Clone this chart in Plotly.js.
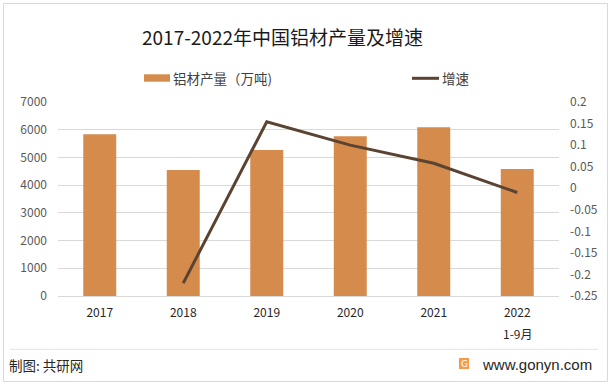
<!DOCTYPE html>
<html>
<head>
<meta charset="utf-8">
<script src="https://cdn.plot.ly/plotly-3.0.1.min.js"></script>
<style>html,body{margin:0;padding:0;background:#fff;}#chart{width:611px;height:386px;}</style>
</head>
<body>
<div id="chart"></div>
<script>
// ---- data ----
var categories = ["2017", "2018", "2019", "2020", "2021", "2022"];
var output = [5840, 4545, 5265, 5765, 6090, 4580];      // 铝材产量（万吨）
var growth = [null, -0.220, 0.154, 0.100, 0.058, -0.010]; // 增速
var leftTicks = [0, 1000, 2000, 3000, 4000, 5000, 6000, 7000];
var rightTicks = [-0.25, -0.2, -0.15, -0.1, -0.05, 0, 0.05, 0.1, 0.15, 0.2];
var rightTickText = ["-0.25", "-0.2", "-0.15", "-0.1", "-0.05", "0", "0.05", "0.1", "0.15", "0.2"];

// ---- layout helpers (pixel -> paper) ----
var W = 611, H = 386, L = 58, R = 52, T = 102, B = 90;
var PW = W - L - R, PH = H - T - B;
function px(x) { return (x - L) / PW; }
function py(y) { return (H - B - y) / PH; }

var FONT = '"Noto Sans CJK SC", "Noto Sans", sans-serif';
var barColor = '#D48B4C';
var lineColor = '#5B4331';

var traces = [
  {
    type: 'bar', x: categories, y: output, name: '铝材产量（万吨)',
    marker: { color: barColor }, yaxis: 'y', showlegend: false, hoverinfo: 'skip'
  },
  {
    type: 'scatter', mode: 'lines', x: categories, y: growth, name: '增速',
    line: { color: lineColor, width: 3 }, yaxis: 'y2', showlegend: false,
    connectgaps: false, hoverinfo: 'skip'
  }
];

var layout = {
  width: W, height: H,
  margin: { l: L, r: R, t: T, b: B, pad: 0 },
  paper_bgcolor: '#ffffff', plot_bgcolor: '#ffffff',
  font: { family: FONT, size: 12, color: '#404040' },
  bargap: 0.605,
  title: {
    text: '2017-2022年中国铝材产量及增速',
    font: { family: FONT, size: 19, color: '#1a1a1a' },
    x: 282.5 / W, xref: 'container', xanchor: 'center',
    y: 1 - 38.5 / H, yref: 'container', yanchor: 'middle'
  },
  xaxis: {
    type: 'category', range: [-0.5, categories.length - 0.5], autorange: false,
    showgrid: false, zeroline: false, showline: true, linecolor: '#D9D9D9', linewidth: 1,
    ticks: '', tickfont: { family: FONT, size: 12, color: '#262626' },
    ticklabelstandoff: 6
  },
  yaxis: {
    range: [0, 7000], tickvals: leftTicks, showgrid: true, gridcolor: '#D9D9D9',
    gridwidth: 1, zeroline: false, showline: false, ticks: '',
    tickfont: { family: FONT, size: 12, color: '#595959' }, ticklabelstandoff: 10
  },
  yaxis2: {
    overlaying: 'y', side: 'right', range: [-0.25, 0.2], tickvals: rightTicks,
    ticktext: rightTickText, showgrid: false, zeroline: false, showline: false,
    ticks: '', tickfont: { family: FONT, size: 12, color: '#595959' }, ticklabelstandoff: 10
  },
  shapes: [
    { type: 'rect', xref: 'paper', yref: 'paper', x0: px(3.5), x1: px(607.5), y0: py(3.5), y1: py(381.5),
      line: { color: '#D9D9D9', width: 1 }, fillcolor: 'rgba(0,0,0,0)', layer: 'below' },
    { type: 'line', xref: 'paper', yref: 'paper', x0: px(10), x1: px(598), y0: py(349.3), y1: py(349.3),
      line: { color: '#E3E3E3', width: 1 } },
    { type: 'rect', xref: 'paper', yref: 'paper', x0: px(144), x1: px(170), y0: py(81.7), y1: py(74.3),
      line: { width: 0 }, fillcolor: barColor },
    { type: 'line', xref: 'paper', yref: 'paper', x0: px(412), x1: px(439), y0: py(78.3), y1: py(78.3),
      line: { color: lineColor, width: 3 } },
    { type: 'rect', xref: 'paper', yref: 'paper', x0: px(459), x1: px(469), y0: py(369), y1: py(358),
      line: { width: 0 }, fillcolor: '#F39A4E' }
  ],
  annotations: [
    { text: '铝材产量（万吨)', xref: 'paper', yref: 'paper', x: px(171), y: py(78),
      xanchor: 'left', yanchor: 'middle', showarrow: false,
      font: { family: FONT, size: 13.5, color: '#404040' } },
    { text: '增速', xref: 'paper', yref: 'paper', x: px(440), y: py(78),
      xanchor: 'left', yanchor: 'middle', showarrow: false,
      font: { family: FONT, size: 13.5, color: '#404040' } },
    { text: '1-9月', xref: 'x', yref: 'paper', x: categories.length - 1, y: py(333),
      xanchor: 'center', yanchor: 'middle', showarrow: false,
      font: { family: FONT, size: 12, color: '#262626' } },
    { text: '制图: 共研网', xref: 'paper', yref: 'paper', x: px(7), y: py(365),
      xanchor: 'left', yanchor: 'middle', showarrow: false,
      font: { family: FONT, size: 13.5, color: '#262626' } },
    { text: 'G', xref: 'paper', yref: 'paper', x: px(464), y: py(363.5),
      xanchor: 'center', yanchor: 'middle', showarrow: false,
      font: { family: 'DejaVu Sans', size: 9, color: '#ffffff' } },
    { text: 'www.gonyn.com', xref: 'paper', yref: 'paper', x: px(594), y: py(364),
      xanchor: 'right', yanchor: 'middle', showarrow: false,
      font: { family: '"Liberation Sans", Arial, sans-serif', size: 15, color: '#262626' } }
  ]
};

Plotly.newPlot('chart', traces, layout, { staticPlot: true, displayModeBar: false });
</script>
</body>
</html>
